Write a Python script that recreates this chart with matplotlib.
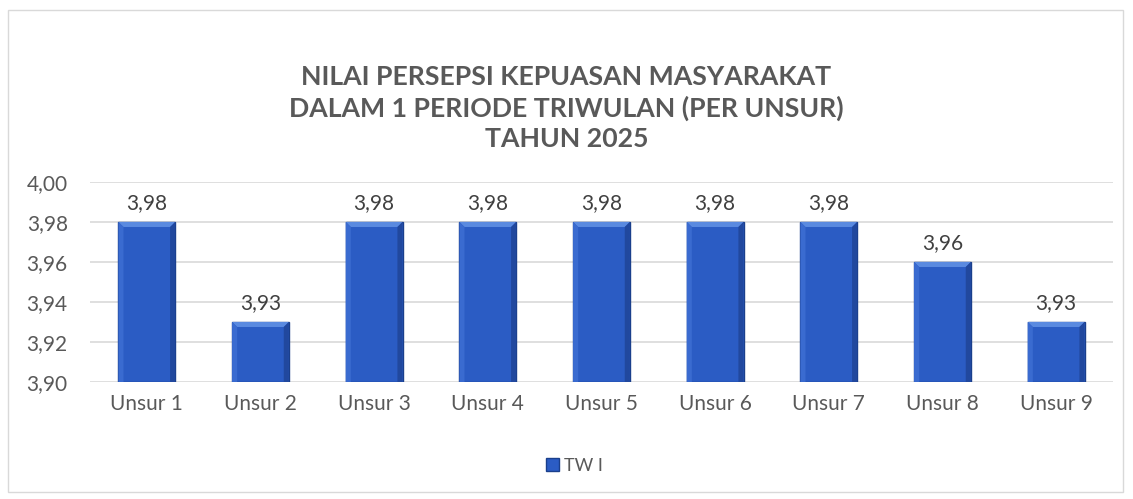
import matplotlib.pyplot as plt
from matplotlib.patches import Rectangle, Polygon
from matplotlib.ticker import FuncFormatter

# Chart data
categories = ['Unsur 1', 'Unsur 2', 'Unsur 3', 'Unsur 4', 'Unsur 5',
              'Unsur 6', 'Unsur 7', 'Unsur 8', 'Unsur 9']
values = [3.98, 3.93, 3.98, 3.98, 3.98, 3.98, 3.98, 3.96, 3.93]
series_name = 'TW I'
title = ('NILAI PERSEPSI KEPUASAN MASYARAKAT\n'
         'DALAM 1 PERIODE TRIWULAN (PER UNSUR)\n'
         'TAHUN 2025')

plt.rcParams['font.family'] = ['Lato', 'DejaVu Sans']

fig = plt.figure(figsize=(11.33, 4.99), dpi=100)
ax = fig.add_axes([0.0794, 0.2345, 0.9029, 0.4008])

# outer chart border
fig.patches.append(Rectangle((8 / 1133, 7 / 499), 1115 / 1133, 482 / 499,
                             transform=fig.transFigure, fill=False,
                             edgecolor='#d9d9d9', linewidth=1))

ymin = 3.90
x = list(range(len(categories)))
width = 0.5
bars = ax.bar(x, [v - ymin for v in values], width, bottom=ymin,
              color='#2b5cc4', edgecolor='#1a3f8c', linewidth=1.0, zorder=3,
              label=series_name)

# bevel on top and sides of each bar
for xi, v in zip(x, values):
    h = 0.0025
    bx = 0.045
    l, r = xi - width / 2, xi + width / 2
    ax.add_patch(Polygon([(l, v), (r, v), (r - bx, v - h), (l + bx, v - h)],
                         closed=True, facecolor='#5a8ae0', edgecolor='none',
                         zorder=4))
    ax.add_patch(Polygon([(l, v), (l + bx, v - h), (l + bx, ymin), (l, ymin)],
                         closed=True, facecolor='#3a6bd0', edgecolor='none',
                         zorder=4))
    ax.add_patch(Polygon([(r, v), (r - bx, v - h), (r - bx, ymin), (r, ymin)],
                         closed=True, facecolor='#21489e', edgecolor='none',
                         zorder=4))
    ax.text(xi, v + 0.0045, f'{v:.2f}'.replace('.', ','), ha='center',
            va='bottom', fontsize=15, color='#404040')

ax.set_xlim(-0.5, len(categories) - 0.5)
ax.set_ylim(3.90, 4.00)
ax.set_yticks([3.90, 3.92, 3.94, 3.96, 3.98, 4.00])
ax.yaxis.set_major_formatter(FuncFormatter(lambda v, p: f'{v:.2f}'.replace('.', ',')))
ax.set_xticks(x)
ax.set_xticklabels(categories)
ax.tick_params(axis='both', length=0, labelsize=15, colors='#595959')
ax.tick_params(axis='y', pad=16)
ax.tick_params(axis='x', pad=9)
ax.grid(axis='y', color='#d9d9d9', linewidth=1.2, zorder=0)
for s in ax.spines.values():
    s.set_visible(False)

fig.text(0.5, 0.783, title, ha='center', va='center', fontsize=19.2,
         fontweight='bold', color='#595959', linespacing=1.3)

leg = fig.legend(loc='center', bbox_to_anchor=(0.507, 0.066), frameon=False,
                 fontsize=13, handlelength=0.7, handleheight=0.7,
                 handletextpad=0.3, labelcolor='#595959')

fig.savefig('out.png', dpi=100)
